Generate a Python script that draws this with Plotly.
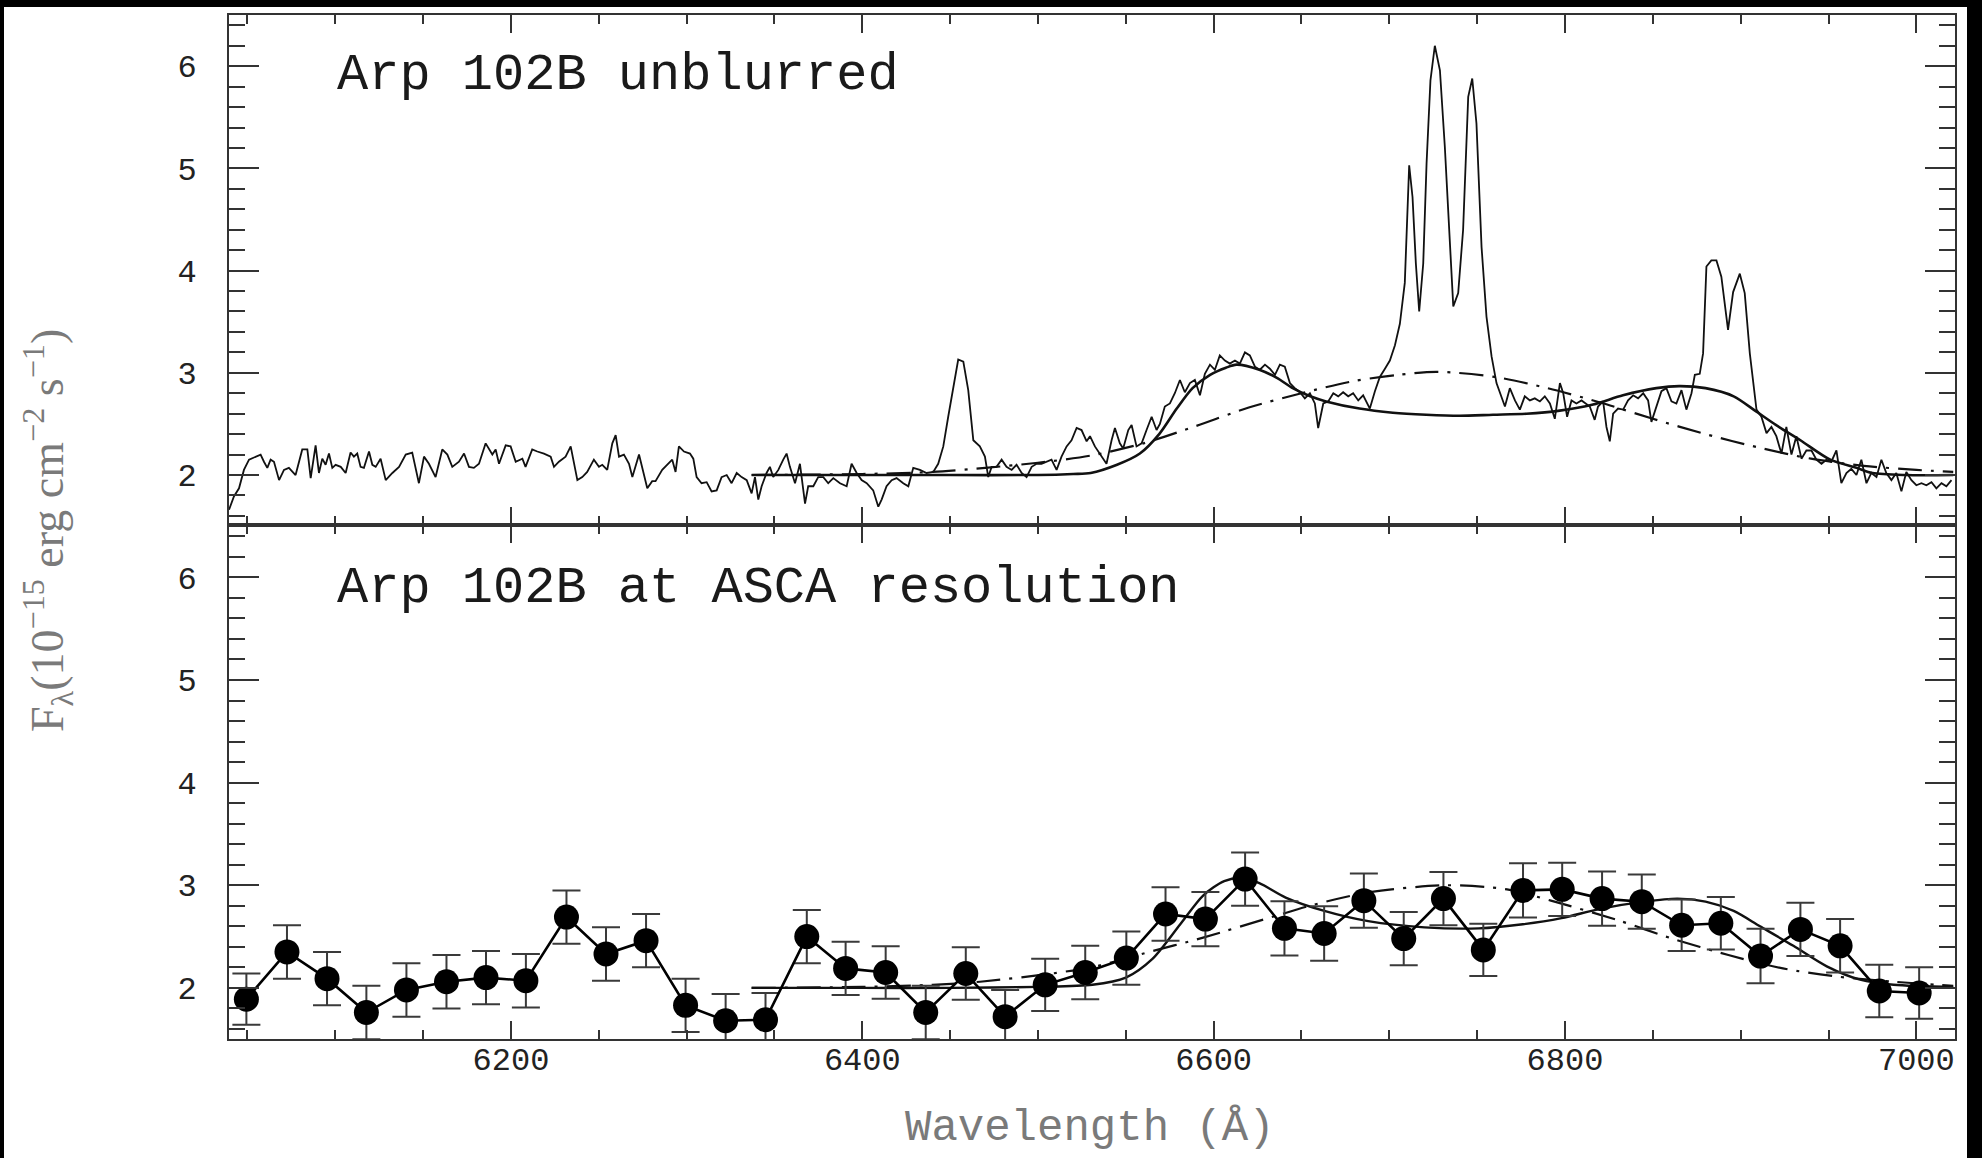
import plotly.graph_objects as go

# ---------------- data ----------------
# Top panel: observed (unblurred) spectrum, (wavelength [A], flux)
spec_seg1 = [
    (6039.5, 1.66), (6042.3, 1.79), (6045.2, 1.87), (6048.0, 2.05), (6050.9, 2.15), (6053.7, 2.17),
    (6057.5, 2.20), (6059.4, 2.13), (6061.3, 2.07), (6063.2, 2.15), (6065.1, 2.13), (6068.0, 1.95),
    (6070.8, 2.05), (6073.6, 2.07), (6077.4, 2.00), (6081.2, 2.25), (6084.1, 2.25), (6086.0, 1.97),
    (6088.8, 2.29), (6090.7, 2.02), (6092.6, 2.16), (6094.5, 2.10), (6096.4, 2.21), (6098.3, 2.07),
    (6100.2, 2.10), (6103.1, 2.08), (6105.9, 2.02), (6108.7, 2.22), (6110.6, 2.18), (6112.5, 2.21),
    (6114.4, 2.08), (6116.3, 2.07), (6119.2, 2.23), (6121.1, 2.10), (6123.0, 2.08), (6125.8, 2.16),
    (6128.7, 1.95), (6132.5, 2.02), (6136.3, 2.08), (6140.1, 2.20), (6143.8, 2.22), (6147.6, 1.92),
    (6150.5, 2.18), (6153.3, 2.11), (6157.1, 1.98), (6160.9, 2.25), (6163.8, 2.20), (6166.6, 2.08),
    (6170.4, 2.13), (6173.3, 2.21), (6176.1, 2.08), (6178.9, 2.07), (6181.8, 2.11), (6185.6, 2.31),
    (6189.4, 2.20), (6191.3, 2.25), (6193.2, 2.11), (6197.0, 2.29), (6199.8, 2.28), (6202.7, 2.13),
    (6206.5, 2.16), (6208.3, 2.08), (6212.1, 2.25), (6215.0, 2.23), (6218.8, 2.21), (6222.6, 2.18),
    (6224.5, 2.08), (6227.3, 2.13), (6231.1, 2.18), (6234.0, 2.28), (6237.8, 1.95), (6240.6, 1.98),
    (6243.4, 2.03), (6247.2, 2.15), (6250.1, 2.08), (6252.0, 2.10), (6254.8, 2.05), (6257.7, 2.31),
    (6259.6, 2.39), (6261.5, 2.18), (6264.3, 2.20), (6267.2, 2.11), (6269.1, 1.98), (6272.9, 2.20),
    (6275.7, 2.00), (6277.6, 1.87), (6280.4, 1.94), (6282.3, 1.94), (6286.1, 2.05), (6291.8, 2.15),
    (6293.7, 2.03), (6295.6, 2.28), (6298.5, 2.23),
]
spec_seg2 = [
    (6301.9, 2.21), (6303.8, 2.16), (6305.7, 1.98), (6308.5, 1.92), (6311.4, 1.93), (6314.2, 1.84),
    (6317.1, 1.85), (6319.9, 1.98), (6322.8, 2.00), (6325.6, 1.92), (6328.5, 2.02), (6331.3, 1.98),
    (6334.2, 1.95), (6337.0, 1.82), (6338.9, 1.98), (6340.8, 1.76), (6342.7, 1.89), (6345.5, 2.02),
    (6347.4, 2.08), (6349.3, 1.98), (6352.2, 2.05), (6355.0, 2.15), (6356.9, 2.21), (6358.8, 2.08),
    (6361.7, 1.92), (6364.5, 2.11), (6367.4, 1.72), (6369.2, 1.89), (6372.1, 1.89), (6374.9, 1.98),
    (6377.8, 1.98), (6380.6, 1.92), (6383.5, 1.97), (6387.3, 1.92), (6391.1, 1.89), (6393.9, 2.11),
    (6396.8, 2.02), (6399.6, 1.95), (6402.5, 1.92), (6406.2, 1.85), (6409.1, 1.69), (6411.0, 1.76),
    (6413.8, 1.89), (6416.7, 1.95), (6419.5, 1.97), (6423.3, 1.92), (6426.2, 1.89), (6429.0, 2.07),
    (6432.8, 2.05), (6436.6, 2.02), (6440.4, 2.03), (6443.2, 2.11), (6446.1, 2.28), (6448.9, 2.57),
    (6451.8, 2.86), (6454.6, 3.13), (6457.5, 3.11), (6460.3, 2.83), (6463.2, 2.34), (6466.9, 2.28),
    (6469.8, 2.18), (6471.7, 1.98), (6473.6, 2.08), (6476.4, 2.08), (6479.3, 2.15), (6482.1, 2.08),
    (6485.0, 2.05), (6487.8, 2.10), (6490.7, 2.02), (6493.5, 1.98), (6496.4, 2.08), (6499.2, 2.11),
    (6502.0, 2.11), (6504.9, 2.13), (6507.7, 2.15), (6510.6, 2.05), (6513.4, 2.18), (6516.3, 2.28),
    (6519.1, 2.34), (6522.0, 2.46), (6524.8, 2.44), (6527.7, 2.33), (6529.6, 2.38), (6532.4, 2.28),
    (6535.3, 2.21), (6539.0, 2.11), (6541.9, 2.34), (6543.8, 2.46), (6546.6, 2.31), (6548.5, 2.26),
    (6551.4, 2.44), (6553.3, 2.49), (6556.1, 2.28), (6559.0, 2.31), (6561.8, 2.44), (6564.7, 2.57),
    (6567.5, 2.44),
]
spec_seg3 = [
    (6569.4, 2.50), (6572.2, 2.67), (6575.1, 2.70), (6577.9, 2.80), (6580.8, 2.93), (6583.6, 2.81),
    (6586.5, 2.90), (6589.3, 2.93), (6592.2, 2.78), (6595.0, 2.99), (6597.9, 3.08), (6600.7, 3.03),
    (6603.5, 3.17), (6606.4, 3.12), (6609.2, 3.09), (6612.1, 3.12), (6614.9, 3.09), (6617.8, 3.20),
    (6620.6, 3.17), (6623.5, 3.06), (6626.3, 3.03), (6629.2, 3.08), (6632.0, 3.04), (6634.9, 2.98),
    (6637.7, 3.08), (6640.5, 3.06), (6643.4, 2.90), (6646.2, 2.85), (6649.1, 2.81), (6651.9, 2.75),
    (6654.8, 2.80), (6657.6, 2.70), (6659.5, 2.46), (6662.4, 2.70), (6665.2, 2.72), (6668.1, 2.80),
    (6670.9, 2.77), (6673.7, 2.81), (6676.6, 2.77), (6679.4, 2.80), (6682.3, 2.73), (6685.1, 2.78),
    (6688.9, 2.65), (6691.8, 2.82), (6694.6, 2.96), (6697.5, 3.04), (6700.3, 3.12), (6703.2, 3.27),
    (6706.0, 3.48), (6708.8, 3.88), (6711.3, 5.03), (6713.2, 4.72), (6715.1, 4.07), (6717.0, 3.60),
    (6719.3, 4.07), (6721.2, 5.05), (6723.4, 5.86), (6725.9, 6.20), (6728.8, 5.96), (6731.6, 5.21),
    (6734.5, 4.33), (6736.4, 3.65), (6739.2, 3.78), (6742.0, 4.40), (6744.9, 5.70), (6747.2, 5.88),
    (6749.6, 5.44), (6752.5, 4.23), (6755.3, 3.55), (6758.2, 3.16), (6761.0, 2.90), (6762.9, 2.81),
    (6765.8, 2.67), (6768.6, 2.85), (6771.5, 2.73), (6774.3, 2.64), (6777.1, 2.77), (6780.0, 2.73),
    (6782.8, 2.75), (6785.7, 2.72), (6788.5, 2.77), (6791.4, 2.70), (6794.2, 2.55), (6797.1, 2.90),
    (6799.0, 2.80), (6801.2, 2.57), (6803.7, 2.73), (6806.5, 2.70), (6809.4, 2.73),
]
spec_seg4 = [
    (6814.1, 2.67), (6816.9, 2.54), (6818.8, 2.67), (6821.7, 2.72), (6823.6, 2.47), (6825.5, 2.33),
    (6827.4, 2.60), (6830.2, 2.65), (6833.1, 2.64), (6835.9, 2.73), (6838.8, 2.78), (6841.6, 2.75),
    (6844.5, 2.80), (6847.3, 2.73), (6849.2, 2.52), (6852.0, 2.67), (6854.9, 2.82), (6857.7, 2.85),
    (6860.6, 2.72), (6863.4, 2.70), (6866.3, 2.83), (6869.1, 2.64), (6872.0, 2.80), (6873.9, 2.98),
    (6876.7, 2.99), (6878.6, 3.19), (6880.5, 4.04), (6883.3, 4.10), (6886.2, 4.10), (6889.0, 3.94),
    (6892.8, 3.42), (6895.7, 3.79), (6899.5, 3.97), (6902.3, 3.78), (6905.2, 3.19), (6909.0, 2.64),
    (6911.8, 2.57), (6914.7, 2.41), (6917.5, 2.47), (6920.3, 2.38), (6923.2, 2.21), (6926.0, 2.47),
    (6928.9, 2.20), (6931.7, 2.38), (6934.6, 2.16), (6937.4, 2.24), (6940.3, 2.24), (6943.1, 2.15),
    (6946.0, 2.11), (6948.8, 2.15), (6951.6, 2.13), (6954.5, 2.24), (6957.3, 1.92), (6960.2, 2.02),
    (6963.0, 2.06), (6965.9, 2.00), (6968.7, 2.15), (6971.6, 1.92), (6974.4, 2.02), (6977.3, 1.98),
    (6980.1, 2.15), (6982.9, 2.02), (6985.8, 1.95), (6988.6, 2.02), (6991.5, 1.84), (6994.3, 2.03),
    (6997.2, 1.95), (7000.0, 1.90), (7002.9, 1.92), (7005.7, 1.90), (7008.6, 1.93), (7011.4, 1.87),
    (7014.3, 1.92), (7017.1, 1.89), (7020.0, 1.95),
]

# Top panel models
top_solid_wl = [6337, 6400, 6450, 6500, 6520, 6530, 6545, 6558, 6569, 6579, 6588, 6598, 6607, 6613,
                6626, 6636, 6645, 6655, 6664, 6683, 6702, 6721, 6740, 6759, 6778, 6797, 6816, 6833,
                6852, 6865, 6880, 6896, 6909, 6920, 6934, 6951, 6966, 6975, 6994, 7021]
top_solid_flux = [2.00, 2.00, 2.00, 2.00, 2.01, 2.02, 2.10, 2.21, 2.40, 2.65, 2.85, 2.98, 3.05, 3.08,
                  3.03, 2.95, 2.85, 2.77, 2.72, 2.65, 2.61, 2.59, 2.58, 2.59, 2.60, 2.63, 2.69, 2.78,
                  2.85, 2.87, 2.85, 2.77, 2.62, 2.49, 2.34, 2.15, 2.07, 2.02, 2.00, 2.00]
top_dd_wl = [6337, 6400, 6440, 6470, 6500, 6530, 6560, 6590, 6620, 6650, 6680, 6705, 6727,
             6760, 6790, 6820, 6850, 6880, 6910, 6940, 6970, 7000, 7021]
top_dd_flux = [2.00, 2.01, 2.03, 2.07, 2.12, 2.19, 2.31, 2.48, 2.66, 2.80, 2.92, 2.98, 3.01,
               2.96, 2.85, 2.71, 2.55, 2.40, 2.27, 2.16, 2.09, 2.05, 2.03]

# Bottom panel: spectrum at ASCA resolution
asca_wl = [6049.4, 6072.5, 6095.3, 6117.7, 6140.5, 6163.3, 6185.8, 6208.5, 6231.6, 6254.1,
           6276.9, 6299.4, 6322.2, 6344.9, 6368.4, 6390.5, 6413.3, 6436.1, 6458.9, 6481.3,
           6504.1, 6526.9, 6550.3, 6572.6, 6595.3, 6617.9, 6640.3, 6662.9, 6685.5, 6708.2,
           6730.8, 6753.5, 6776.1, 6798.4, 6821.1, 6843.7, 6866.4, 6888.7, 6911.3, 6934.0,
           6956.6, 6978.9, 7001.6]
asca_flux = [1.89, 2.35, 2.09, 1.76, 1.98, 2.06, 2.10, 2.07, 2.69, 2.33,
             2.46, 1.83, 1.68, 1.69, 2.50, 2.19, 2.15, 1.76, 2.14, 1.72,
             2.03, 2.15, 2.29, 2.72, 2.67, 3.06, 2.58, 2.53, 2.85, 2.48,
             2.87, 2.37, 2.95, 2.96, 2.87, 2.84, 2.61, 2.63, 2.31, 2.57,
             2.41, 1.97, 1.95]
asca_err = [0.25, 0.26, 0.26, 0.26, 0.26, 0.26, 0.26, 0.26, 0.26, 0.26,
            0.26, 0.26, 0.26, 0.26, 0.26, 0.26, 0.255, 0.26, 0.255, 0.26,
            0.255, 0.26, 0.26, 0.26, 0.265, 0.26, 0.265, 0.265, 0.265, 0.26,
            0.26, 0.255, 0.265, 0.26, 0.265, 0.265, 0.25, 0.255, 0.265, 0.26,
            0.26, 0.255, 0.25]

bot_solid_wl = [6337, 6400, 6450, 6500, 6531, 6550, 6565, 6581, 6594, 6606, 6616, 6626, 6641, 6663,
                6688, 6720, 6751, 6776, 6798, 6820, 6845, 6864, 6880, 6896, 6911, 6930, 6949, 6968,
                6987, 7021]
bot_solid_flux = [2.00, 2.00, 2.00, 2.01, 2.03, 2.10, 2.28, 2.62, 2.90, 3.04, 3.07, 3.02, 2.88, 2.75,
                  2.65, 2.59, 2.58, 2.62, 2.68, 2.77, 2.84, 2.87, 2.84, 2.75, 2.60, 2.41, 2.21, 2.08,
                  2.03, 2.01]
bot_dd_wl = [6337, 6400, 6440, 6467, 6508, 6533, 6559, 6594, 6635, 6657, 6688, 6732, 6767, 6792,
             6830, 6861, 6893, 6924, 6955, 6987, 7021]
bot_dd_flux = [2.00, 2.01, 2.03, 2.06, 2.14, 2.21, 2.33, 2.49, 2.70, 2.81, 2.93, 3.00, 2.96, 2.85,
               2.66, 2.48, 2.32, 2.19, 2.11, 2.06, 2.02]

panel_labels = ["Arp 102B unblurred", "Arp 102B at ASCA resolution"]
x_title = "Wavelength (Å)"
y_title = "F<sub>λ</sub>(10<sup>−15</sup> erg cm<sup>−2</sup> s<sup>−1</sup>)"

# ---------------- figure ----------------
spec = spec_seg1 + spec_seg2 + spec_seg3 + spec_seg4
spec_wl = [p[0] for p in spec]
spec_flux = [p[1] for p in spec]

W, H = 1982, 1158
L, R, T, B = 229, 1955, 15, 1039
PW, PH = R - L, B - T

def px(x):
    return (x - L) / PW

def py(y):
    return (B - y) / PH

DD = "24px,9px,3px,9px"
MONO = "Liberation Mono, Courier New, monospace"
SERIF = "Liberation Serif, Times New Roman, serif"

fig = go.Figure()

# top panel
fig.add_trace(go.Scatter(x=top_dd_wl, y=top_dd_flux, xaxis="x2", yaxis="y2", mode="lines",
                         line=dict(color="#111", width=2.2, dash=DD, shape="spline", smoothing=0.8)))
fig.add_trace(go.Scatter(x=top_solid_wl, y=top_solid_flux, xaxis="x2", yaxis="y2", mode="lines",
                         line=dict(color="#111", width=2.6, shape="spline", smoothing=0.8)))
fig.add_trace(go.Scatter(x=spec_wl, y=spec_flux, xaxis="x2", yaxis="y2", mode="lines",
                         line=dict(color="#111", width=1.8)))

# bottom panel
fig.add_trace(go.Scatter(x=bot_dd_wl, y=bot_dd_flux, xaxis="x", yaxis="y", mode="lines",
                         line=dict(color="#111", width=2.2, dash=DD, shape="spline", smoothing=0.8)))
fig.add_trace(go.Scatter(x=bot_solid_wl, y=bot_solid_flux, xaxis="x", yaxis="y", mode="lines",
                         line=dict(color="#111", width=2.4, shape="spline", smoothing=0.8)))
fig.add_trace(go.Scatter(x=asca_wl, y=asca_flux, xaxis="x", yaxis="y", mode="lines+markers",
                         line=dict(color="#000", width=2.6),
                         marker=dict(color="#000", size=25, symbol="circle"),
                         error_y=dict(type="data", array=asca_err, visible=True,
                                      color="#3a3a3a", thickness=2, width=14)))

axis_common = dict(
    showline=True, linecolor="#333", linewidth=2, mirror="ticks",
    ticks="inside", tickcolor="#333", tickwidth=2,
    showgrid=False, zeroline=False,
)

xcommon = dict(axis_common, range=[6039.5, 7022], tickmode="linear", tick0=6000, dtick=200,
               ticklen=18,
               minor=dict(ticks="inside", tick0=6000, dtick=50, ticklen=9, tickcolor="#333", tickwidth=2,
                          showgrid=False))
ycommon = dict(axis_common, tickmode="linear", tick0=0, dtick=1, ticklen=30,
               minor=dict(ticks="inside", tick0=0, dtick=0.2, ticklen=16, tickcolor="#333", tickwidth=2,
                          showgrid=False),
               tickfont=dict(family=MONO, size=32, color="#222"), ticklabelstandoff=24)

split = 514 / PH

fig.update_layout(
    width=W, height=H,
    margin=dict(l=L, r=W - R, t=T, b=H - B, autoexpand=False),
    paper_bgcolor="white", plot_bgcolor="white",
    showlegend=False,
    xaxis=dict(xcommon, domain=[0, 1], anchor="y", showticklabels=True,
               tickfont=dict(family=MONO, size=32, color="#222"), ticklabelstandoff=-9),
    xaxis2=dict(xcommon, domain=[0, 1], anchor="y2", matches="x", showticklabels=False,
                linewidth=1.5),
    yaxis=dict(ycommon, domain=[0, split], range=[1.502, 6.51], anchor="x"),
    yaxis2=dict(ycommon, domain=[split, 1], range=[1.511, 6.501], anchor="x2"),
)

annotations = [
    dict(text=panel_labels[0], x=px(335), y=py(75), xref="paper", yref="paper",
         xanchor="left", yanchor="middle", showarrow=False,
         font=dict(family=MONO, size=52, color="#1a1a1a")),
    dict(text=panel_labels[1], x=px(335), y=py(588), xref="paper", yref="paper",
         xanchor="left", yanchor="middle", showarrow=False,
         font=dict(family=MONO, size=52, color="#1a1a1a")),
    dict(text=x_title, x=px(1090), y=py(1128), xref="paper", yref="paper",
         xanchor="center", yanchor="middle", showarrow=False,
         font=dict(family=MONO, size=44, color="#7a7a7a")),
    dict(text=y_title, x=px(47), y=py(531), xref="paper", yref="paper",
         xanchor="center", yanchor="middle", showarrow=False, textangle=-90,
         font=dict(family=SERIF, size=46, color="#7a7a7a")),
]
fig.update_layout(annotations=annotations)

# black border strips of the original scan
shapes = [
    dict(type="rect", xref="paper", yref="paper", x0=px(-5), x1=px(W + 5), y0=py(7), y1=py(-5),
         fillcolor="black", line=dict(width=0), layer="above"),
    dict(type="rect", xref="paper", yref="paper", x0=px(-5), x1=px(4), y0=py(H + 5), y1=py(-5),
         fillcolor="black", line=dict(width=0), layer="above"),
    dict(type="rect", xref="paper", yref="paper", x0=px(1967), x1=px(W + 5), y0=py(H + 5), y1=py(-5),
         fillcolor="black", line=dict(width=0), layer="above"),
]
fig.update_layout(shapes=shapes)

fig.write_html("out.html")
